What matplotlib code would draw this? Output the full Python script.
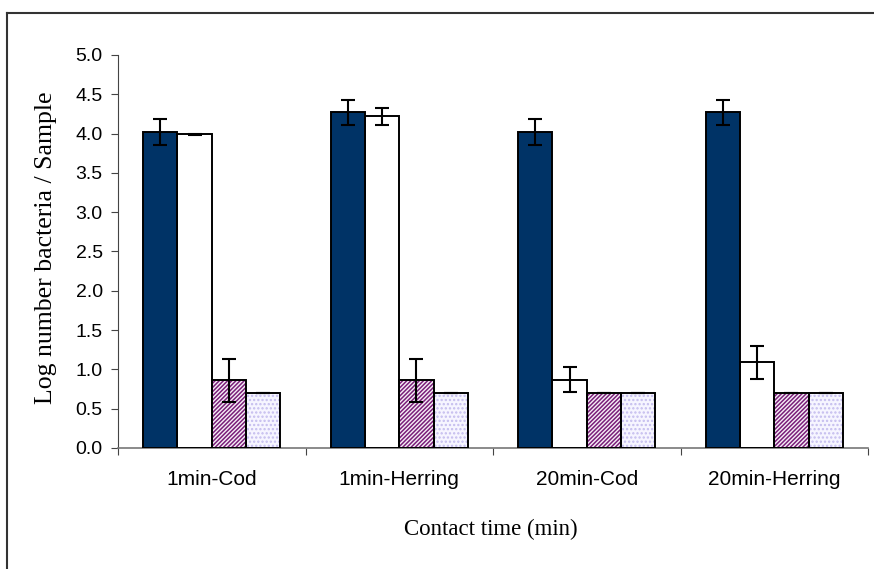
import matplotlib
matplotlib.use("Agg")
import matplotlib.pyplot as plt
import numpy as np
from matplotlib.lines import Line2D
from matplotlib import font_manager

categories = ["1min-Cod", "1min-Herring", "20min-Cod", "20min-Herring"]
series1 = [4.02, 4.27, 4.02, 4.27]
series1_err = [0.17, 0.16, 0.17, 0.16]
series2 = [3.99, 4.22, 0.87, 1.09]
series2_err = [0.01, 0.11, 0.16, 0.21]
series3 = [0.86, 0.86, 0.70, 0.70]
series3_err = [0.27, 0.27, 0.0, 0.0]
series4 = [0.70, 0.70, 0.70, 0.70]
series4_err = [0.0, 0.0, 0.0, 0.0]
yticks = [0.0, 0.5, 1.0, 1.5, 2.0, 2.5, 3.0, 3.5, 4.0, 4.5, 5.0]

names = {f.name for f in font_manager.fontManager.ttflist}
if "Liberation Sans Narrow" in names:
    cat_family, cat_size = "Liberation Sans Narrow", 17
else:
    cat_family, cat_size = "Liberation Sans", 15

plt.rcParams['hatch.linewidth'] = 1.1

fig = plt.figure(figsize=(8.74, 5.69), dpi=100)
ax = fig.add_axes([118/874, 1-448/569, (868-118)/874, (448-55)/569])

x = np.arange(len(categories))
w = 0.183
offsets = [-1.5*w, -0.5*w, 0.5*w, 1.5*w]
styles = [
    dict(color="#003366", edgecolor="black"),
    dict(color="white", edgecolor="black"),
    dict(color="#f6eef6", edgecolor="#7a1f7a", hatch="////////"),
    dict(color="#f6f5ff", edgecolor="#c4bcee", hatch="...."),
]
data = [(series1, series1_err), (series2, series2_err), (series3, series3_err), (series4, series4_err)]
for (vals, errs), off, st in zip(data, offsets, styles):
    ax.bar(x + off, vals, w, zorder=2, linewidth=0, **st)
    ax.bar(x + off, vals, w, fill=False, edgecolor="black", linewidth=1.4, zorder=3)
    ax.errorbar(x + off, vals, yerr=errs, fmt="none", ecolor="black", elinewidth=1.5,
                capsize=5.2, capthick=1.5, zorder=4)

ax.set_xlim(-0.5, len(categories) - 0.5)
ax.set_ylim(0, 5.0)
ax.set_yticks(yticks)
ax.set_yticklabels([f"{t:.1f}" for t in yticks], fontsize=14, family="Liberation Sans")
ax.set_xticks(np.arange(len(categories) + 1) - 0.5)
ax.set_xticklabels([])
ax.set_xticks(x, minor=True)
ax.set_xticklabels(categories, minor=True, fontsize=cat_size, family=cat_family)
ax.tick_params(axis="x", which="minor", length=0, pad=16)
ax.tick_params(axis="x", which="major", length=5, direction="out", color="#444444")
ax.tick_params(axis="y", length=5, direction="out", pad=6, color="#444444")
for s in ["top", "right"]:
    ax.spines[s].set_visible(False)
ax.spines["left"].set_color("#444444")
ax.spines["bottom"].set_color("#777777")
ax.spines["bottom"].set_linewidth(1.2)

ax.set_ylabel("Log number bacteria / Sample", fontsize=18.5, family="Liberation Serif")
ax.yaxis.set_label_coords((46 - 118) / 750, 0.5 + (448 - 248 - 196.5) / 393)
ax.set_xlabel("Contact time (min)", fontsize=16.5, family="Liberation Serif")
ax.xaxis.set_label_coords((491 - 118) / 750, -(529 - 448) / 393)
ax.xaxis.label.set_va("center")
ax.yaxis.label.set_va("center")

# figure outer frame (top and left)
fig.add_artist(Line2D([6.5/874, 1.0], [1-13/569, 1-13/569], transform=fig.transFigure, color="#333333", lw=1.5))
fig.add_artist(Line2D([6.5/874, 6.5/874], [0, 1-13/569], transform=fig.transFigure, color="#333333", lw=1.5))

fig.savefig("out.png", dpi=100)
